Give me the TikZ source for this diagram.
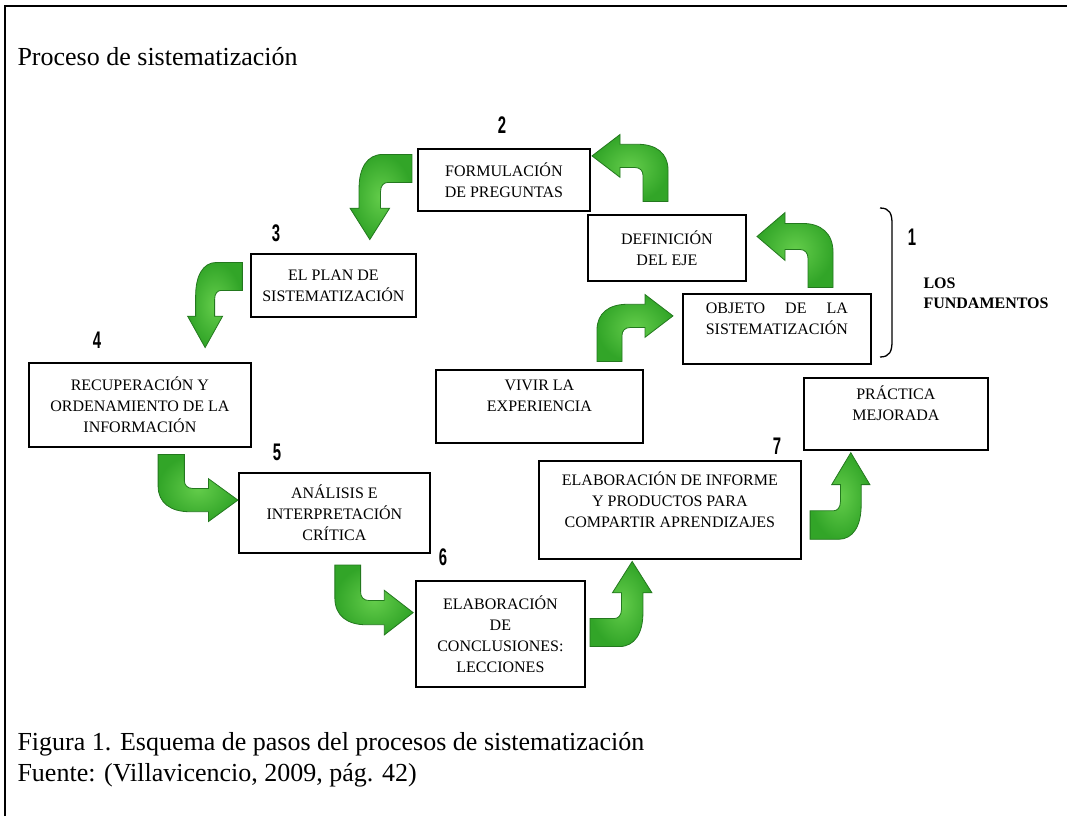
\documentclass[tikz,border=0pt]{standalone}
\usepackage{fontspec}
\setmainfont{Liberation Serif}
\newfontfamily\numfont[FakeStretch=0.62]{Liberation Sans}
\usepackage{calc}
\usetikzlibrary{positioning}
\definecolor{arrowgreen}{RGB}{50,165,40}
\definecolor{arrowlight}{RGB}{100,205,75}
\definecolor{arrowedge}{RGB}{35,120,30}

\tikzset{
  box/.style={draw, line width=1.8pt, anchor=north west, align=center, inner sep=0pt,
    font=\fontsize{16}{21}\selectfont},
  stepnum/.style={font=\numfont\bfseries\fontsize{24}{24}\selectfont},
  arrowbody/.style={inner color=arrowlight, outer color=arrowgreen, draw=arrowedge, line width=0.8pt},
  flipx/.style={xscale=-1},
  flipy/.style={yscale=-1},
  swapdown/.style={cm={0,-1,-1,0,(0,0)}},
  swapup/.style={cm={0,1,1,0,(0,0)}},
  bent/.pic={
    \shadedraw[arrowbody] (-38,36) -- (-38,2) .. controls (-38,-16) and (-26,-25.5) .. (-8,-25.5)
      -- (10,-25.5) -- (10,-36) -- (38,-13) -- (10,10) -- (10,-0.5) -- (-5,-0.5)
      .. controls (-10,-0.5) and (-13,3) .. (-13,8) -- (-13,36) -- cycle;
  }
}

\begin{document}
\begin{tikzpicture}[x=1pt,y=-1pt]
\path[fill=white] (0,0) rectangle (1067,816);
\useasboundingbox (0,0) rectangle (1067,816);

% frame
\draw[line width=1.5pt] (5,816) -- (5,6) -- (1067,6);

\node[anchor=base west, font=\fontsize{26}{31}\selectfont] (title) at (14,65) {Proceso de sistematización};

% boxes
\node[box, minimum width=172pt, minimum height=62pt] (form) at (417,148) {FORMULACIÓN\\DE PREGUNTAS};
\node[box, minimum width=158pt, minimum height=66pt] (def) at (587,214) {DEFINICIÓN\\DEL EJE};
\node[box, minimum width=165pt, minimum height=63pt] (plan) at (250,253) {EL PLAN DE\\SISTEMATIZACIÓN};
\node[box, minimum width=222pt, minimum height=84pt] (recup) at (28,362) {RECUPERACIÓN Y\\ORDENAMIENTO DE LA\\INFORMACIÓN};
\node[box, minimum width=191pt, minimum height=80pt] (anal) at (238,472) {ANÁLISIS E\\INTERPRETACIÓN\\CRÍTICA};
\node[box, minimum width=169pt, minimum height=106pt] (concl) at (415,580) {ELABORACIÓN\\DE\\CONCLUSIONES:\\LECCIONES};
\node[box, minimum width=262pt, minimum height=98pt] (inform) at (538,460) {ELABORACIÓN DE INFORME\\Y PRODUCTOS PARA\\COMPARTIR APRENDIZAJES\\\mbox{}};
\node[box, minimum width=207pt, minimum height=73pt] (vivir) at (435,369) {VIVIR LA\\EXPERIENCIA\\\mbox{}};
\node[box, minimum width=188pt, minimum height=70pt] (objeto) at (682,293) {\makebox[\widthof{SISTEMATIZACIÓN}][s]{OBJETO DE LA}\\SISTEMATIZACIÓN\\\mbox{}};
\node[box, minimum width=184pt, minimum height=72pt] (pract) at (803,377) {PRÁCTICA\\MEJORADA\\\mbox{}};

% step numbers
\foreach \n/\x/\y in {1/912/237, 2/502/125, 3/276/233, 4/97/340, 5/277/452, 6/443/557, 7/777/446}
{
    \node[stepnum] (num\n) at (\x,\y) {\n};
}

% bracket
\coordinate (brtop) at (880,208);
\coordinate (brbot) at (880,357);
\draw[line width=1.3pt] (brtop) .. controls (890,208) and (892,214) .. (892,224) -- (892,341)
    .. controls (892,351) and (890,357) .. (brbot);
\node[anchor=base west, font=\bfseries\fontsize{16}{20}\selectfont, align=left] (fund) at (920,308) {LOS\\FUNDAMENTOS};

% green arrows
\pic[yscale=.93] at (635,328) {bent};
\pic[flipx, yscale=1.04] at (795,250) {bent};
\pic[flipx, yscale=.93] at (630,168) {bent};
\pic[swapdown, xscale=1.12, yscale=.86] at (381,197) {bent};
\pic[swapdown, xscale=1.12, yscale=.76] at (215,305) {bent};
\pic[flipy, xscale=1.05, yscale=.93] at (198,488) {bent};
\pic[flipy, xscale=1.03, yscale=.97] at (374,600) {bent};
\pic[swapup, xscale=1.12, yscale=.86] at (621,604) {bent};
\pic[swapup, xscale=1.14, yscale=.83] at (840,496) {bent};

% caption
\node[anchor=base west, font=\fontsize{26}{31}\selectfont] (cap) at (14,750) {Figura 1. Esquema de pasos del procesos de sistematización};
\node[anchor=base west, font=\fontsize{26}{31}\selectfont] (src) at (14,781) {Fuente: (Villavicencio, 2009, pág. 42)};
\end{tikzpicture}
\end{document}
